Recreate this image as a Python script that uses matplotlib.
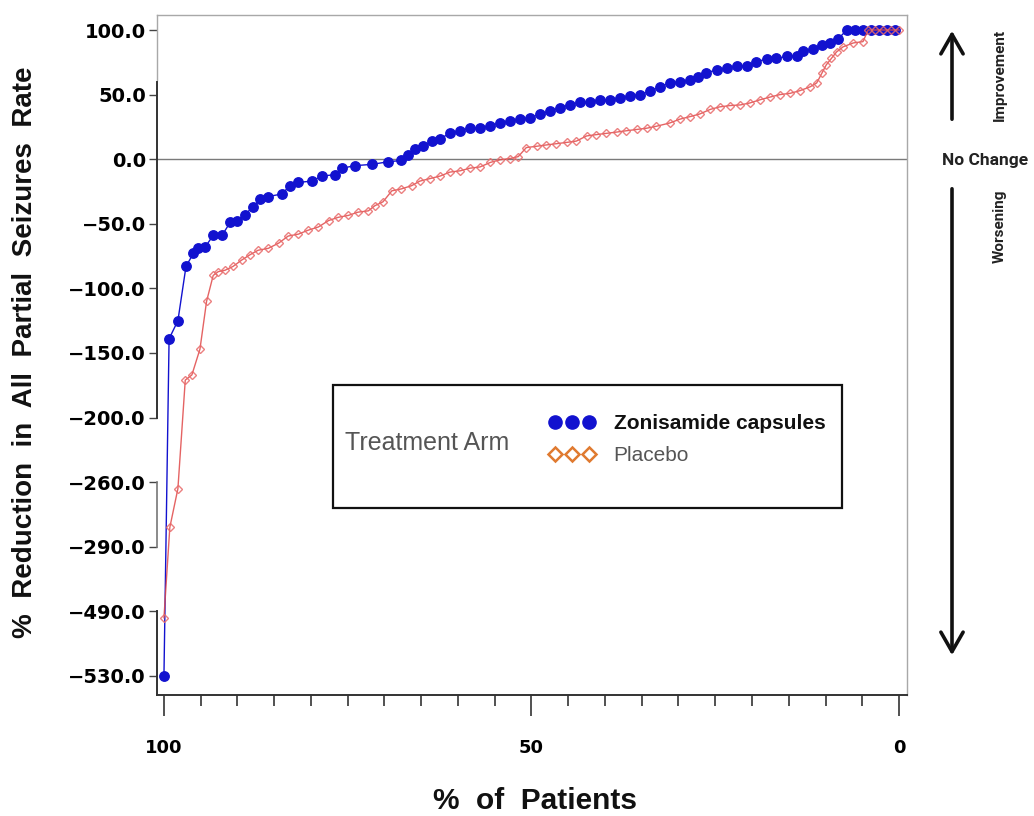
import numpy as np
import matplotlib
matplotlib.use("Agg")
import matplotlib.pyplot as plt
from matplotlib.lines import Line2D
from matplotlib.patches import Rectangle
from matplotlib.ticker import FixedLocator, MultipleLocator, NullLocator

# ---------------- data ----------------
y_tick_values = [100, 50, 0, -50, -100, -150, -200, -260, -290, -490, -530]
y_tick_labels = ["100.0", "50.0", "0.0", "\u221250.0", "\u2212100.0", "\u2212150.0",
                 "\u2212200.0", "\u2212260.0", "\u2212290.0", "\u2212490.0", "\u2212530.0"]
x_tick_values = [100, 50, 0]
x_tick_labels = ["100", "50", "0"]

zon_pct = [100.0, 99.3, 98.1, 97.0, 96.0, 95.3, 94.4, 93.3, 92.1, 91.0, 90.1, 89.0,
           87.9, 86.9, 85.9, 84.0, 82.9, 81.8, 79.9, 78.5, 76.7, 75.8, 74.0, 71.7,
           69.5, 67.7, 66.8, 65.9, 64.7, 63.6, 62.4, 61.1, 59.7, 58.4, 57.0, 55.6,
           54.3, 52.9, 51.6, 50.2, 48.8, 47.5, 46.1, 44.8, 43.4, 42.0, 40.7, 39.3,
           38.0, 36.6, 35.2, 33.9, 32.5, 31.2, 29.8, 28.4, 27.3, 26.2, 24.8, 23.4,
           22.1, 20.7, 19.4, 18.0, 16.7, 15.3, 13.9, 13.0, 11.7, 10.5, 9.4, 8.3,
           7.1, 6.0, 4.9, 3.8, 2.7, 1.6, 0.5]
zon_val = [-530, -139, -125, -83, -73, -69, -68, -59, -59, -49, -48, -43,
           -37, -31, -29, -27, -21, -18, -17, -13, -12, -7, -5, -4,
           -2, -1, 3, 8, 10, 14, 16, 20, 22, 24, 24, 26,
           28, 29.5, 31, 32, 35, 37, 40, 42, 44, 44, 46, 46,
           47, 49, 50, 52.5, 56, 59, 60, 61, 64, 67, 69, 70.5,
           72, 72, 75.5, 77.5, 78, 79.5, 80, 84, 85, 88.5, 90, 93,
           100, 100, 100, 100, 100, 100, 100]

pla_pct = [100.0, 99.2, 98.1, 97.1, 96.2, 95.1, 94.2, 93.3, 92.6, 91.7, 90.6, 89.4,
           88.3, 87.2, 85.8, 84.4, 83.1, 81.7, 80.4, 79.0, 77.6, 76.3, 74.9, 73.6,
           72.2, 71.3, 70.2, 69.0, 67.7, 66.3, 65.2, 63.8, 62.4, 61.1, 59.7, 58.4,
           57.0, 55.6, 54.3, 52.9, 51.8, 50.7, 49.3, 48.0, 46.6, 45.2, 43.9, 42.5,
           41.2, 39.8, 38.4, 37.1, 35.7, 34.3, 33.0, 31.2, 29.8, 28.4, 27.1, 25.7,
           24.4, 23.0, 21.6, 20.3, 18.9, 17.6, 16.2, 14.8, 13.5, 12.1, 11.2, 10.5,
           9.9, 9.2, 8.5, 7.6, 6.2, 4.9, 4.2, 3.3, 2.2, 1.1, 0.0]
pla_val = [-494, -281, -263, -171, -167, -147, -110, -90, -87, -86, -83, -78,
           -74, -70.5, -69, -65, -59.5, -58, -55, -52.5, -47.5, -45, -43.5, -41,
           -40, -36, -33, -24.5, -23, -20.5, -17, -15, -13, -10, -9, -7,
           -6, -2.5, -0.5, 0.5, 2, 9, 10, 11, 12, 13, 14, 18,
           19, 20, 21, 22, 23, 24, 25.5, 28, 31, 33, 35, 38.5,
           40.5, 41.5, 42, 43.5, 46, 48, 50, 51, 53, 56, 59, 66.5,
           73, 78, 83, 87, 90, 91, 100, 100, 100, 100, 100]

series_names = ["Zonisamide capsules", "Placebo"]
legend_title = "Treatment Arm"

# ---------------- scale (evenly spaced, irregular tick values) ----------------
_scale_vals = np.array([-570] + sorted(y_tick_values) + [150], dtype=float)
_scale_pos = np.arange(-1, len(y_tick_values) + 1, dtype=float)


def fwd(v):
    return np.interp(v, _scale_vals, _scale_pos)


def inv(p):
    return np.interp(p, _scale_pos, _scale_vals)


plt.rcParams['font.family'] = ['Liberation Sans', 'DejaVu Sans']

fig = plt.figure(figsize=(10.34, 8.16), dpi=100)
ax = fig.add_axes([0.1518, 0.1483, 0.7254, 0.8333])
ax.set_yscale('function', functions=(fwd, inv))

blue = '#1212CF'
red = '#E04848'

ax.axhline(0, color='#7a7a7a', lw=1.0, zorder=1)

ax.plot(zon_pct, zon_val, color=blue, lw=1.0, marker='o', markersize=6.8,
        markerfacecolor=blue, markeredgecolor=blue, zorder=3, clip_on=False)
ax.plot(pla_pct, pla_val, color=red, lw=1.0, alpha=0.85, marker='D', markersize=3.8,
        markerfacecolor='none', markeredgecolor='#E86A6A', markeredgewidth=1.0,
        zorder=4, clip_on=False)

ylo, yhi = -541.8, 111.6
ax.set_ylim(ylo, yhi)
ax.set_xlim(100.95, -1.09)

ax.yaxis.set_major_locator(FixedLocator(y_tick_values))
ax.set_yticklabels(y_tick_labels)
ax.yaxis.set_minor_locator(NullLocator())
ax.set_xticks(x_tick_values)
ax.set_xticklabels(x_tick_labels)
ax.xaxis.set_minor_locator(MultipleLocator(5))

ax.tick_params(axis='y', which='major', length=6, width=1, color='#444444',
               pad=2, labelsize=14)
ax.tick_params(axis='x', which='major', length=15, width=1.2, color='#333333',
               pad=17, labelsize=13)
ax.tick_params(axis='x', which='minor', length=8, width=1.2, color='#333333')
for lab in ax.get_yticklabels() + ax.get_xticklabels():
    lab.set_fontweight('bold')
    lab.set_family(['DejaVu Sans'])

ax.spines['top'].set_color('#a8a8a8')
ax.spines['right'].set_color('#a8a8a8')
ax.spines['top'].set_linewidth(1.0)
ax.spines['right'].set_linewidth(1.0)
ax.spines['left'].set_visible(False)
ax.spines['bottom'].set_color('#333333')
ax.spines['bottom'].set_linewidth(1.4)

# broken left axis segments
ytr = ax.get_yaxis_transform()
ax.plot([0, 0], [61.5, yhi], transform=ytr, color='#a8a8a8', lw=1.0, clip_on=False, zorder=2)
ax.plot([0, 0], [60, -200], transform=ytr, color='#333333', lw=1.4, clip_on=False, zorder=2)
ax.plot([0, 0], [-260, -290], transform=ytr, color='#777777', lw=1.2, clip_on=False, zorder=2)
ax.plot([0, 0], [-490, ylo], transform=ytr, color='#333333', lw=1.4, clip_on=False, zorder=2)

# axis titles
fig.text(25 / 1034, 0.568, "%  Reduction  in  All  Partial  Seizures  Rate", rotation=90,
         ha='center', va='center', fontsize=20, fontweight='bold', color='#111111')
fig.text(535 / 1034, (816 - 801) / 816, "%  of  Patients", ha='center', va='center',
         fontsize=21.5, fontweight='bold', color='#111111')

# right-side annotations
fig.text(1000 / 1034, (816 - 75) / 816, "Improvement", rotation=90, ha='center', va='center',
         fontsize=11, fontweight='bold', family=['Roboto', 'DejaVu Sans'], color='#222222')
fig.text(985 / 1034, (816 - 160) / 816, "No Change", ha='center', va='center',
         fontsize=12.5, fontweight='bold', family=['Roboto', 'DejaVu Sans'], color='#222222')
fig.text(1000 / 1034, (816 - 226) / 816, "Worsening", rotation=90, ha='center', va='center',
         fontsize=11, fontweight='bold', family=['Roboto', 'DejaVu Sans'], color='#222222')
arrowprops = dict(arrowstyle='->,head_length=1.4,head_width=0.8', lw=2.6, color='#111111')
fig.add_artist(plt.Annotation("", xy=(952 / 1034, (816 - 28) / 816), xycoords='figure fraction',
                              xytext=(952 / 1034, (816 - 122) / 816), textcoords='figure fraction',
                              arrowprops=arrowprops))
fig.add_artist(plt.Annotation("", xy=(952 / 1034, (816 - 658) / 816), xycoords='figure fraction',
                              xytext=(952 / 1034, (816 - 186) / 816), textcoords='figure fraction',
                              arrowprops=arrowprops))

# legend box
fig.add_artist(Rectangle((333 / 1034, (816 - 508) / 816), 509 / 1034, 123 / 816,
                         transform=fig.transFigure, facecolor='white', edgecolor='#111111',
                         lw=1.6, zorder=10))
fig.text(345 / 1034, (816 - 443) / 816, legend_title, ha='left', va='center', fontsize=18,
         color='#555555', zorder=11)
handles = [Line2D([], [], linestyle='none', marker='o', markersize=9.5, color=blue),
           Line2D([], [], linestyle='none', marker='D', markersize=7.5, markerfacecolor='white',
                  markeredgecolor='#E07A30', markeredgewidth=1.8)]
leg = fig.legend(handles, series_names, loc='upper left',
                 bbox_to_anchor=(549 / 1034, (816 - 414) / 816), numpoints=3,
                 handlelength=2.2, handletextpad=0.9, labelspacing=0.64, borderpad=0,
                 borderaxespad=0, frameon=False, fontsize=15)
leg.set_zorder(12)
leg.get_texts()[0].set_fontweight('bold')
leg.get_texts()[0].set_color('#111111')
leg.get_texts()[1].set_color('#555555')

fig.savefig("out.png", dpi=100)
